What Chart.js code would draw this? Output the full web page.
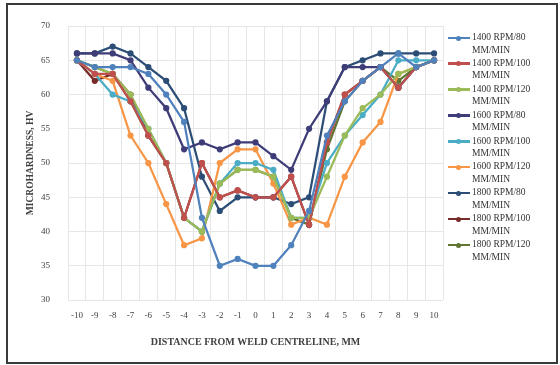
<!DOCTYPE html>
<html>
<head>
<meta charset="utf-8">
<script src="https://cdn.jsdelivr.net/npm/chart.js@4"></script>
<style>
  body { margin: 0; background: #fff; }
  #wrap { position: relative; width: 560px; height: 365px; }
  #frame { position: absolute; left: 6px; top: 3px; width: 548px; height: 357px; border: 2px solid #3a3a3a; }
  canvas { position: absolute; left: 0; top: 0; }
  #legend { position: absolute; left: 448px; top: 31px; font-family: "Liberation Serif", serif; font-size: 9.5px; color: #333; }
  .item { position: relative; height: 25.9px; padding-left: 24px; line-height: 12.5px; }
  .item i { position: absolute; left: 0; top: 5.5px; width: 22px; height: 2.5px; }
  .item b { position: absolute; left: 8px; top: 4.5px; width: 5px; height: 5px; border-radius: 50%; }
</style>
</head>
<body>
<div id="wrap">
  <div id="frame"></div>
  <canvas id="chart" width="560" height="365"></canvas>
  <div id="legend"></div>
</div>
<script>
// Distance from weld centreline (mm)
const distances = ['-10','-9','-8','-7','-6','-5','-4','-3','-2','-1','0','1','2','3','4','5','6','7','8','9','10'];

// Microhardness (HV) for each parameter set
const rpm1400_80  = [65, 64, 64, 64, 63, 60, 56, 42, 35, 36, 35, 35, 38, 43, 54, 59, 62, 64, 66, 64, 65];
const rpm1400_100 = [65, 63, 63, 59, 54, 50, 42, 50, 45, 46, 45, 45, 48, 41, 53, 60, 62, 64, 61, 64, 65];
const rpm1400_120 = [65, 64, 63, 60, 55, 50, 42, 40, 47, 49, 49, 48, 42, 42, 48, 54, 58, 60, 63, 64, 65];
const rpm1600_80  = [66, 66, 66, 65, 61, 58, 52, 53, 52, 53, 53, 51, 49, 55, 59, 64, 64, 64, 61, 64, 65];
const rpm1600_100 = [65, 63, 60, 59, 55, 50, 42, 40, 47, 50, 50, 49, 42, 42, 50, 54, 57, 60, 65, 65, 65];
const rpm1600_120 = [65, 63, 62, 54, 50, 44, 38, 39, 50, 52, 52, 47, 41, 42, 41, 48, 53, 56, 63, 64, 65];
const rpm1800_80  = [66, 66, 67, 66, 64, 62, 58, 48, 43, 45, 45, 45, 44, 45, 59, 64, 65, 66, 66, 66, 66];
const rpm1800_100 = [65, 62, 63, 60, 54, 50, 42, 50, 45, 46, 45, 45, 48, 41, 53, 60, 62, 64, 61, 64, 65];
const rpm1800_120 = [65, 64, 63, 59, 54, 50, 42, 40, 47, 49, 49, 48, 42, 41, 52, 59, 62, 64, 62, 64, 65];

const seriesNames = ['1400 RPM/80', '1400 RPM/100', '1400 RPM/120',
                     '1600 RPM/80', '1600 RPM/100', '1600 RPM/120',
                     '1800 RPM/80', '1800 RPM/100', '1800 RPM/120'];
const seriesData = [rpm1400_80, rpm1400_100, rpm1400_120, rpm1600_80, rpm1600_100, rpm1600_120,
                    rpm1800_80, rpm1800_100, rpm1800_120];
const seriesColors = ['#4f81bd', '#c0504d', '#9bbb59', '#3f3d78', '#4bacc6', '#f79646',
                      '#2c4d75', '#772c2a', '#5f7530'];

const yTicks = [30, 35, 40, 45, 50, 55, 60, 65, 70];

const datasets = seriesNames.map((name, i) => ({
  label: name + ' MM/MIN',
  data: seriesData[i],
  borderColor: seriesColors[i],
  backgroundColor: seriesColors[i],
  borderWidth: 2.25,
  pointRadius: 2,
  pointHoverRadius: 2,
  tension: 0,
  fill: false
}));

const serif = '"Liberation Serif", serif';

new Chart(document.getElementById('chart'), {
  type: 'line',
  data: { labels: distances, datasets },
  options: {
    responsive: false,
    animation: false,
    layout: { padding: { left: 25, top: 26, right: 117, bottom: 17 } },
    plugins: { legend: { display: false }, tooltip: { enabled: false } },
    scales: {
      x: {
        offset: true,
        grid: { offset: true, color: '#e6e6e6', drawTicks: false },
        border: { display: false },
        ticks: { color: '#404040', font: { family: serif, size: 9 }, padding: 10, maxRotation: 0, autoSkip: false },
        title: { display: true, text: 'DISTANCE FROM WELD CENTRELINE, MM', color: '#404040',
                 font: { family: serif, size: 10, weight: 'bold' }, padding: 0 },
        afterFit: s => { s.height = 48; }
      },
      y: {
        min: 30, max: 70,
        afterBuildTicks: s => { s.ticks = yTicks.map(v => ({ value: v })); },
        grid: { color: '#e6e6e6', drawTicks: false },
        border: { display: false },
        ticks: { color: '#404040', font: { family: serif, size: 9 }, padding: 18 },
        title: { display: true, text: 'MICROHARDNESS, HV', color: '#404040',
                 font: { family: serif, size: 9.5, weight: 'bold' }, padding: 0 },
        afterFit: s => { s.width = 43; }
      }
    }
  }
});

// two-line legend on the right, like the original
const legend = document.getElementById('legend');
seriesNames.forEach((name, i) => {
  const div = document.createElement('div');
  div.className = 'item';
  div.innerHTML = '<i style="background:' + seriesColors[i] + '"></i><b style="background:' + seriesColors[i] + '"></b>' +
                  name + '<br>MM/MIN';
  legend.appendChild(div);
});
</script>
</body>
</html>
